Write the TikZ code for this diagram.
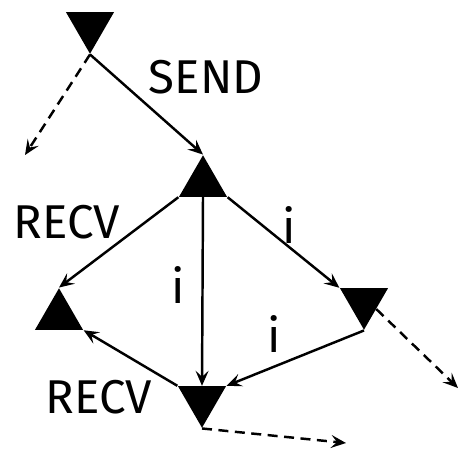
\documentclass[tikz,border=0pt]{standalone}
\usepackage{fontspec}
\setmainfont{Fira Sans}
\usetikzlibrary{shapes.geometric,arrows.meta}

\tikzset{
  tri/.style={regular polygon, regular polygon sides=3, fill=black,
    inner sep=0pt, minimum size=1.11cm},
  trup/.style={tri},
  trdown/.style={tri, shape border rotate=180},
  lbl/.style={font=\fontsize{27}{33}\selectfont, inner sep=0pt},
  msg/.style={line width=1.4pt, -{Stealth[length=3mm, width=2.6mm, inset=1.2mm]}},
  cont/.style={msg, dash pattern=on 2mm off 1.3mm},
}

\begin{document}
\begin{tikzpicture}[x=0.02cm, y=-0.02cm]
  \useasboundingbox (0,0) rectangle (462,451);

  % states
  \node[trdown] (top) at (90,26) {};
  \node[trup] (mid) at (203,183) {};
  \node[trup] (left) at (59,316) {};
  \node[trdown] (right) at (364,302) {};
  \node[trdown] (bot) at (202,400) {};

  % loose ends
  \coordinate (topout) at (25,155);
  \coordinate (rightout) at (458,388);
  \coordinate (botout) at (346,443);

  % transitions
  \draw[msg] (top.corner 1) -- (mid.corner 1);
  \draw[msg] (mid.corner 2) -- (left.corner 1);
  \draw[msg] (mid.corner 3) -- (right.corner 3);
  \draw[msg] (mid.side 2) -- (bot.side 2);
  \draw[msg] (right.corner 1) -- (bot.corner 2);
  \draw[msg] (bot.corner 3) -- (left.corner 3);

  \draw[cont] (top.corner 1) -- (topout);
  \draw[cont] (right.side 1) -- (rightout);
  \draw[cont] (bot.corner 1) -- (botout);

  % labels
  \node[lbl] (send) at (206,77) {SEND};
  \node[lbl] (recvtop) at (67,222) {RECV};
  \node[lbl] (itop) at (289,225) {i};
  \node[lbl] (imid) at (178,285) {i};
  \node[lbl] (ibot) at (274,334) {i};
  \node[lbl] (recvbot) at (99,397) {RECV};
\end{tikzpicture}
\end{document}
